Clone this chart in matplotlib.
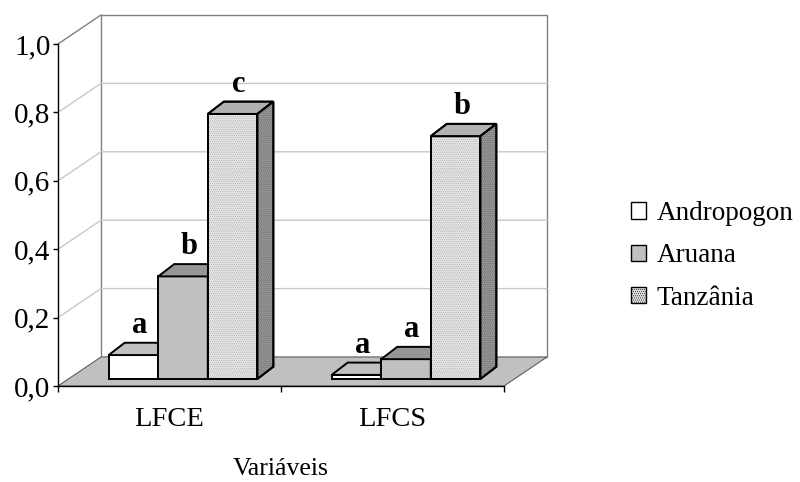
import matplotlib
matplotlib.use("Agg")
import matplotlib.pyplot as plt
from matplotlib.patches import Polygon, Patch

plt.rcParams['font.family'] = ['Liberation Serif', 'DejaVu Serif']
plt.rcParams['hatch.linewidth'] = 0.4

categories = ["LFCE", "LFCS"]
series = ["Andropogon", "Aruana", "Tanzânia"]
values = {
    "Andropogon": [0.07, 0.012],
    "Aruana": [0.30, 0.058],
    "Tanzânia": [0.775, 0.71],
}
letters = {
    "Andropogon": ["a", "a"],
    "Aruana": ["b", "a"],
    "Tanzânia": ["c", "b"],
}
y_ticks = [0.0, 0.2, 0.4, 0.6, 0.8, 1.0]

# face colours: front, top, side, hatch colour (None = plain)
styles = {
    "Andropogon": ("#ffffff", "#c0c0c0", "#808080", None),
    "Aruana": ("#c0c0c0", "#969696", "#808080", None),
    "Tanzânia": ("#e4e4e4", "#b4b4b4", "#858585", "#a8a8a8"),
}

W, H, DPI = 800, 482, 100
fig = plt.figure(figsize=(W / DPI, H / DPI), dpi=DPI)
ax = fig.add_axes([58 / W, (H - 386) / H, 446 / W, 342 / H])
ax.set_xlim(0, len(categories))
ax.set_ylim(0, 1)
ax.patch.set_visible(False)

# pixel -> data helpers
PX = 446 / len(categories)
PY = 342.0
wall_dx, wall_dy = 43 / PX, 29 / PY
bar_sx, bar_sy = 13.5 / PX, 7 / PY
bar_dx, bar_dy = 16 / PX, 12.3 / PY
bw = 1 / 4.5


def poly(pts, fc, ec="none", lw=0.0, z=1, hatch=None):
    p = Polygon(pts, closed=True, facecolor=fc, edgecolor=ec, lw=lw,
                zorder=z, clip_on=False, joinstyle="miter")
    ax.add_patch(p)
    if hatch:
        h = Polygon(pts, closed=True, fill=False, edgecolor=hatch, lw=0,
                    hatch="........", zorder=z, clip_on=False)
        ax.add_patch(h)
        # redraw outline on top of the dots
        o = Polygon(pts, closed=True, fill=False, edgecolor=ec, lw=lw,
                    zorder=z, clip_on=False, joinstyle="miter")
        ax.add_patch(o)


nc = len(categories)
# walls and floor
poly([(0, 0), (wall_dx, wall_dy), (wall_dx, 1 + wall_dy), (0, 1)], "white", z=0.5)
poly([(wall_dx, wall_dy), (nc + wall_dx, wall_dy), (nc + wall_dx, 1 + wall_dy),
      (wall_dx, 1 + wall_dy)], "white", "#808080", 1.0, z=0.6)
for v in y_ticks[1:-1]:
    ax.plot([0, wall_dx, nc + wall_dx], [v, v + wall_dy, v + wall_dy],
            color="#c8c8c8", lw=1.0, zorder=0.7, clip_on=False)
ax.plot([0, wall_dx], [1, 1 + wall_dy], color="#808080", lw=1.0,
        zorder=0.7, clip_on=False)
poly([(0, 0), (nc, 0), (nc + wall_dx, wall_dy), (wall_dx, wall_dy)],
     "#c0c0c0", "#606060", 0.8, z=0.8)

# bars
for i, cat in enumerate(categories):
    for j, s in enumerate(series):
        val = values[s][i]
        front, top, side, hc = styles[s]
        x0 = i + 0.75 * bw + j * bw + bar_sx
        x1 = x0 + bw
        y0 = bar_sy
        y1 = bar_sy + val
        z = 2 + i * 0.1 + j * 0.01
        poly([(x0, y0), (x1, y0), (x1, y1), (x0, y1)], front, "black", 1.4, z, hc)
        poly([(x0, y1), (x1, y1), (x1 + bar_dx, y1 + bar_dy), (x0 + bar_dx, y1 + bar_dy)],
             top, "black", 1.4, z, hc)
        poly([(x1, y0), (x1 + bar_dx, y0 + bar_dy), (x1 + bar_dx, y1 + bar_dy), (x1, y1)],
             side, "black", 1.4, z, hc)
        ax.text((x0 + x1) / 2 + 6 / PX, y1 + bar_dy + 10 / PY, letters[s][i],
                ha="center", va="baseline", fontsize=22, fontweight="bold", zorder=5)

# axes
for sp in ["top", "right"]:
    ax.spines[sp].set_visible(False)
ax.spines["left"].set_zorder(6)
ax.spines["bottom"].set_zorder(6)
ax.spines["left"].set_linewidth(1.0)
ax.spines["bottom"].set_linewidth(1.0)
ax.set_yticks(y_ticks)
ax.set_yticklabels([f"{v:.1f}".replace(".", ",") for v in y_ticks], fontsize=21)
ax.tick_params(axis="y", direction="out", length=3.5, width=1.0, pad=2)
ax.set_xticks(range(nc + 1))
ax.set_xticklabels([])
ax.set_xticks([k + 0.5 for k in range(nc)], minor=True)
ax.set_xticklabels(categories, minor=True, fontsize=20.5)
ax.tick_params(axis="x", which="major", direction="out", length=4, width=1.0)
ax.tick_params(axis="x", which="minor", length=0, pad=15)
ax.set_xlabel("Variáveis", fontsize=18.5, labelpad=19)

handles = []
for s in series:
    front, top, side, hc = styles[s]
    if hc:
        handles.append(Patch(facecolor=front, edgecolor="black", hatch="........", lw=1.0))
    else:
        handles.append(Patch(facecolor=front, edgecolor="black", lw=1.0))
fig.legend(handles, series, loc="center left", bbox_to_anchor=(631 / W, 1 - 256 / H),
           frameon=False, fontsize=19.5, handlelength=0.55, handleheight=0.55,
           handletextpad=0.4, labelspacing=0.64, borderpad=0, borderaxespad=0)

fig.savefig("out.png", dpi=DPI)
